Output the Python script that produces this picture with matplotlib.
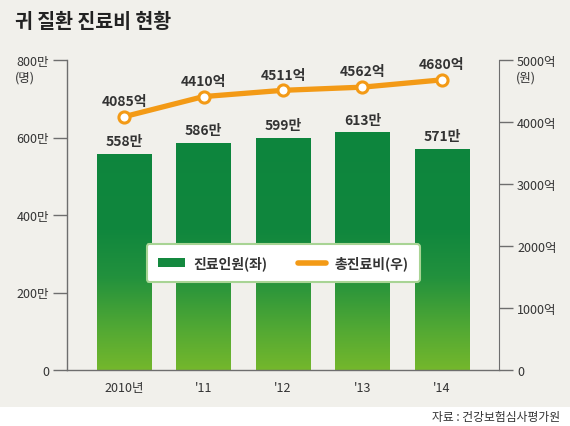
import numpy as np
import matplotlib
matplotlib.use("Agg")
import matplotlib.pyplot as plt
from matplotlib.colors import LinearSegmentedColormap
from matplotlib.patches import Rectangle, Patch
from matplotlib.lines import Line2D

plt.rcParams['font.family'] = ['Noto Sans CJK KR', 'DejaVu Sans']

years = ["2010년", "'11", "'12", "'13", "'14"]
patients = [558, 586, 599, 613, 571]          # 만 명 (left axis)
costs = [4085, 4410, 4511, 4562, 4680]        # 억 원 (right axis)
left_ticks = [0, 200, 400, 600, 800]
right_ticks = [0, 1000, 2000, 3000, 4000, 5000]

bg = '#f1f0eb'
axis_col = '#6e6e6e'
text_col = '#333333'
orange = '#f39a16'

fig = plt.figure(figsize=(5.7, 4.27), dpi=100, facecolor=bg)
ax = fig.add_axes([67 / 570, 1 - 371 / 427, 432 / 570, 310 / 427])
ax.set_facecolor(bg)

x = np.arange(len(years))
bars = ax.bar(x, patients, width=0.68, color='#1a9040', zorder=2)

# vertical gradient inside bars
cmap = LinearSegmentedColormap.from_list(
    'g', [(0, '#74b72c'), (0.12, '#55aa33'), (0.3, '#22913d'),
          (0.45, '#10873e'), (1, '#0b843d')])
grad = np.linspace(0, 1, 256).reshape(-1, 1)
for b in bars:
    x0 = b.get_x()
    im = ax.imshow(grad, extent=[x0, x0 + b.get_width(), 0, 800], origin='lower',
                   aspect='auto', cmap=cmap, zorder=2.1)
    im.set_clip_path(b)

for xi, v in zip(x, patients):
    ax.text(xi, v + 14, f"{v}만", ha='center', va='bottom', fontsize=10,
            fontweight='bold', color=text_col, zorder=5)

ax.set_xlim(-0.717, len(years) - 1 + 0.717)
ax.set_ylim(0, 800)
ax.set_yticks(left_ticks)
ax.set_yticklabels([f"{t}만" if t else "0" for t in left_ticks])
ax.set_xticks(x)
ax.set_xticklabels(years)
ax.tick_params(axis='x', length=0, pad=8, labelsize=9, colors=text_col)
ax.tick_params(axis='y', length=10, width=1, direction='out', pad=3,
               labelsize=9, color=axis_col, labelcolor=text_col)
for s in ['top', 'right']:
    ax.spines[s].set_visible(False)
for s in ['left', 'bottom']:
    ax.spines[s].set_color(axis_col)
    ax.spines[s].set_linewidth(1)
ax.text(-0.075, 0.965, "(명)", transform=ax.transAxes, ha='right', va='top',
        fontsize=9, color=text_col)

ax2 = ax.twinx()
ax2.set_ylim(0, 5000)
ax2.set_yticks(right_ticks)
ax2.set_yticklabels([f"{t}억" if t else "0" for t in right_ticks])
ax2.tick_params(axis='y', length=10, width=1, direction='out', pad=3,
                labelsize=9, color=axis_col, labelcolor=text_col)
for s in ['top', 'left', 'bottom']:
    ax2.spines[s].set_visible(False)
ax2.spines['right'].set_color(axis_col)
ax2.text(1.04, 0.965, "(원)", transform=ax2.transAxes, ha='left', va='top',
         fontsize=9, color=text_col)

ax2.plot(x, costs, color=orange, lw=3.8, marker='o', ms=8, mfc='white',
         mec=orange, mew=2.2, zorder=4)
for xi, v in zip(x, costs):
    ax2.text(xi, v + 140, f"{v}억", ha='center', va='bottom', fontsize=10,
             fontweight='bold', color=text_col, zorder=5)

handles = [Patch(facecolor='#14893f', edgecolor='none'),
           Line2D([0], [0], color=orange, lw=4, solid_capstyle='round')]
leg = ax2.legend(handles, ["진료인원(좌)", "총진료비(우)"], ncol=2,
                 loc='center', bbox_to_anchor=(283 / 570, 1 - 264 / 427),
                 bbox_transform=fig.transFigure, frameon=True, fancybox=True,
                 fontsize=10, handlelength=2.0, handleheight=0.6,
                 columnspacing=2.2, borderpad=0.8, handletextpad=0.6,
                 framealpha=1)
leg.get_frame().set_facecolor('white')
leg.get_frame().set_edgecolor('#a8d494')
leg.get_frame().set_linewidth(1.5)
leg.set_zorder(10)
for t in leg.get_texts():
    t.set_fontweight('bold')
    t.set_color(text_col)

fig.text(15 / 570, 1 - 22 / 427, "귀 질환 진료비 현황", ha='left', va='center',
         fontsize=14, fontweight='bold', color='#222222')

fig.patches.append(Rectangle((0, 0), 1, 19 / 427, transform=fig.transFigure,
                             facecolor='white', edgecolor='none', zorder=0))
fig.text(560 / 570, 1 - 418 / 427, "자료 : 건강보험심사평가원", ha='right',
         va='center', fontsize=8.5, color=text_col)

fig.savefig("out.png", dpi=100, facecolor=bg)
